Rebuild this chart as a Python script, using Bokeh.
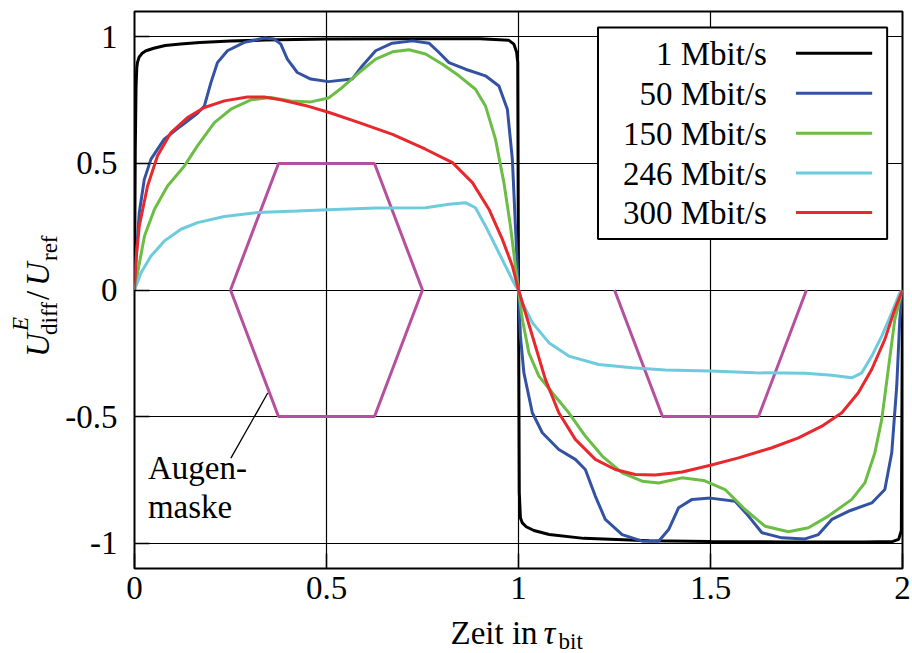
import numpy as np
from bokeh.plotting import figure
from bokeh.layouts import row, column
from bokeh.models import Range1d, FixedTicker, Label, CustomJSTickFormatter, Div
from bokeh.embed import file_html
from bokeh.resources import INLINE

# ---------------- data ----------------
series_names = ["1 Mbit/s", "50 Mbit/s", "150 Mbit/s", "246 Mbit/s", "300 Mbit/s"]
series_colors = ["#000000", "#3352a3", "#6cbd45", "#6ccbdc", "#e8282d"]

x_1 = [0, 0.002, 0.004, 0.006, 0.008, 0.012, 0.02, 0.03, 0.05, 0.08, 0.12, 0.17, 0.25, 0.34,
       0.5, 0.7, 0.9, 0.975, 0.988, 0.995, 0.998, 1.0, 1.002, 1.005, 1.01, 1.02, 1.04, 1.08,
       1.17, 1.34, 1.5, 1.7, 1.9, 1.975, 1.99, 1.997, 2.0]
y_1 = [0, 0.55, 0.8, 0.88, 0.9, 0.92, 0.935, 0.945, 0.955, 0.966, 0.972, 0.978, 0.983, 0.987,
       0.991, 0.992, 0.992, 0.986, 0.971, 0.94, 0.9, 0.0, -0.8, -0.9, -0.92, -0.935, -0.95, -0.966,
       -0.981, -0.99, -0.993, -0.995, -0.995, -0.993, -0.985, -0.95, 0.0]

x_50 = [0, 0.004, 0.0125, 0.0255, 0.043, 0.0775, 0.121, 0.164, 0.182, 0.199, 0.216, 0.242, 0.286,
        0.338, 0.364, 0.381, 0.398, 0.424, 0.459, 0.505, 0.567, 0.593, 0.628, 0.671, 0.724, 0.767,
        0.793, 0.819, 0.862, 0.914, 0.949, 0.971, 0.984, 0.992, 1.0,
        1.005, 1.014, 1.036, 1.062, 1.105, 1.148, 1.174, 1.200, 1.226, 1.270, 1.322, 1.365, 1.391,
        1.417, 1.452, 1.50, 1.564, 1.599, 1.634, 1.686, 1.746, 1.781, 1.816, 1.859, 1.920, 1.954,
        1.972, 1.985, 1.993, 2.0]
y_50 = [0, 0.121, 0.306, 0.437, 0.517, 0.596, 0.648, 0.698, 0.727, 0.819, 0.898, 0.945, 0.978,
        0.995, 0.991, 0.971, 0.912, 0.859, 0.833, 0.823, 0.833, 0.885, 0.945, 0.975, 0.984, 0.975,
        0.938, 0.898, 0.872, 0.846, 0.806, 0.714, 0.517, 0.253, 0.0,
        -0.182, -0.327, -0.485, -0.564, -0.630, -0.669, -0.709, -0.814, -0.906, -0.966, -0.992,
        -0.992, -0.946, -0.860, -0.827, -0.822, -0.834, -0.893, -0.959, -0.979, -0.983, -0.966,
        -0.906, -0.874, -0.841, -0.788, -0.643, -0.379, -0.116, 0.0]

x_150 = [0, 0.008, 0.026, 0.052, 0.086, 0.130, 0.164, 0.208, 0.251, 0.303, 0.355, 0.407, 0.459,
         0.505, 0.541, 0.585, 0.628, 0.672, 0.715, 0.758, 0.802, 0.845, 0.888, 0.914, 0.940, 0.962,
         0.979, 0.992, 1.0,
         1.010, 1.027, 1.053, 1.088, 1.131, 1.174, 1.218, 1.270, 1.322, 1.365, 1.426, 1.482,
         1.538, 1.590, 1.642, 1.703, 1.755, 1.807, 1.868, 1.902, 1.928, 1.946, 1.963, 1.980, 2.0]
y_150 = [0, 0.068, 0.213, 0.319, 0.411, 0.490, 0.569, 0.661, 0.714, 0.751, 0.760, 0.747, 0.743,
         0.758, 0.800, 0.859, 0.912, 0.941, 0.949, 0.932, 0.892, 0.846, 0.793, 0.727, 0.596, 0.424,
         0.253, 0.095, 0.0,
         -0.116, -0.248, -0.340, -0.406, -0.485, -0.577, -0.656, -0.722, -0.755, -0.762, -0.742,
         -0.752, -0.788, -0.867, -0.933, -0.955, -0.939, -0.893, -0.827, -0.762, -0.643, -0.511,
         -0.313, -0.116, 0.0]

x_246 = [0, 0.017, 0.043, 0.078, 0.121, 0.164, 0.234, 0.320, 0.424, 0.505, 0.628, 0.758, 0.819,
         0.862, 0.888, 0.914, 0.940, 0.966, 0.992, 1.0,
         1.010, 1.036, 1.079, 1.131, 1.209, 1.296, 1.382, 1.50, 1.616, 1.746, 1.816, 1.868, 1.894,
         1.920, 1.946, 1.972, 1.993, 2.0]
y_246 = [0, 0.068, 0.134, 0.194, 0.240, 0.266, 0.290, 0.306, 0.312, 0.317, 0.324, 0.325, 0.339,
         0.345, 0.325, 0.253, 0.174, 0.095, 0.016, 0.0,
         -0.050, -0.129, -0.208, -0.261, -0.294, -0.307, -0.316, -0.320, -0.327, -0.329, -0.337,
         -0.347, -0.327, -0.261, -0.182, -0.090, -0.011, 0.0]

x_300 = [0, 0.004, 0.0125, 0.034, 0.060, 0.095, 0.138, 0.182, 0.234, 0.294, 0.338, 0.381, 0.442,
         0.505, 0.585, 0.672, 0.758, 0.828, 0.880, 0.923, 0.958, 0.984, 1.0,
         1.018, 1.044, 1.070, 1.105, 1.148, 1.200, 1.252, 1.304, 1.356, 1.426, 1.50, 1.573, 1.660,
         1.729, 1.790, 1.842, 1.885, 1.920, 1.954, 1.980, 2.0]
y_300 = [0, 0.121, 0.253, 0.411, 0.530, 0.622, 0.681, 0.721, 0.747, 0.762, 0.762, 0.751, 0.730,
         0.702, 0.661, 0.615, 0.556, 0.503, 0.424, 0.319, 0.200, 0.095, 0.0,
         -0.090, -0.221, -0.353, -0.485, -0.590, -0.669, -0.709, -0.729, -0.731, -0.719, -0.692,
         -0.663, -0.623, -0.584, -0.538, -0.485, -0.406, -0.313, -0.195, -0.076, 0.0]

series_x = [x_1, x_50, x_150, x_246, x_300]
series_y = [y_1, y_50, y_150, y_246, y_300]

# eye masks
mask1_x = [0.25, 0.375, 0.625, 0.75, 0.625, 0.375, 0.25]
mask1_y = [0.0, 0.5, 0.5, 0.0, -0.5, -0.5, 0.0]
mask2_x = [1.25, 1.375, 1.625, 1.75]
mask2_y = [0.0, -0.5, -0.5, 0.0]
mask_color = "#b5509f"

x_ticks = [0, 0.5, 1, 1.5, 2]
y_ticks = [-1, -0.5, 0, 0.5, 1]
x_tick_labels = ["0", "0.5", "1", "1.5", "2"]
y_tick_labels = ["-1", "-0.5", "0", "0.5", "1"]

FONT = "Liberation Serif"

# ---------------- layout sizes ----------------
YT_W = 62          # width of the y-title strip
MAIN_W = 912 - YT_W
MAIN_H = 613
XT_H = 653 - MAIN_H

# ---------------- main plot ----------------
p = figure(width=MAIN_W, height=MAIN_H, output_backend="svg", toolbar_location=None,
           x_range=Range1d(0, 2), y_range=Range1d(-1.1, 1.1),
           min_border_left=134 - YT_W, min_border_right=10, min_border_top=11,
           min_border_bottom=MAIN_H - 568)
p.background_fill_color = "white"
p.border_fill_color = "white"
p.outline_line_color = "black"
p.outline_line_width = 2
p.outline_line_alpha = 1

for ax in (p.xaxis, p.yaxis):
    ax.axis_line_color = None
    ax.major_tick_in = 15
    ax.major_tick_out = 0
    ax.major_tick_line_width = 1.5
    ax.minor_tick_line_color = None
    ax.major_label_text_font = FONT
    ax.major_label_text_font_size = "33px"
    ax.major_label_text_color = "black"

fmt_code = """
for (let i = 0; i < tvals.length; i++) {
  if (Math.abs(tvals[i] - tick) < 1e-9) { return tlabels[i]; }
}
return String(tick);
"""
p.xaxis.ticker = FixedTicker(ticks=x_ticks)
p.yaxis.ticker = FixedTicker(ticks=y_ticks)
p.xaxis.formatter = CustomJSTickFormatter(args=dict(tvals=x_ticks, tlabels=x_tick_labels), code=fmt_code)
p.yaxis.formatter = CustomJSTickFormatter(args=dict(tvals=y_ticks, tlabels=y_tick_labels), code=fmt_code)
p.xaxis.major_label_standoff = 8
p.yaxis.major_label_standoff = 17

p.xgrid.ticker = FixedTicker(ticks=x_ticks)
p.ygrid.ticker = FixedTicker(ticks=y_ticks)
for g in (p.xgrid, p.ygrid):
    g.grid_line_color = "black"
    g.grid_line_width = 1.2
    g.grid_line_alpha = 1

# masks
p.line(mask1_x, mask1_y, line_color=mask_color, line_width=3)
p.line(mask2_x, mask2_y, line_color=mask_color, line_width=3)

# curves
for xs, ys, c in zip(series_x, series_y, series_colors):
    p.line(xs, ys, line_color=c, line_width=3)

# annotation of mask
p.line([0.251, 0.347], [-0.664, -0.407], line_color="black", line_width=1.3)
for txt, yy in (("Augen-", -0.704), ("maske", -0.858)):
    p.add_layout(Label(x=0.035, y=yy, text=txt, text_font=FONT, text_font_size="33px",
                       text_align="left", text_baseline="alphabetic", text_color="black"))

# legend (drawn manually: label left, line sample right)
leg_rows = [0.935, 0.777, 0.619, 0.462, 0.306]
p.quad(left=[1.207], right=[1.960], bottom=[0.2016], top=[1.037],
       fill_color="white", line_color="black", line_width=2)
for name, c, yy in zip(series_names, series_colors, leg_rows):
    p.line([1.7225, 1.921], [yy, yy], line_color=c, line_width=3)
    p.add_layout(Label(x=1.647, y=yy - 0.002, text=name, text_font=FONT, text_font_size="33px",
                       text_align="right", text_baseline="alphabetic", text_color="black"))

# ---------------- y-axis title strip: U^E_diff / U_ref (CSS-rotated text) ----------------
# (text, italic?, font px, baseline x, start y) ; each piece rotated 90 deg counter-clockwise
ypieces = [("U", True, 33, 50, 357),
           ("E", True, 23, 28, 331),
           ("diff", False, 23, 57, 335),
           ("/", False, 33, 50, 300),
           ("U", True, 33, 50, 286),
           ("ref", False, 23, 57, 261)]
spans = []
for txt, ital, fs, bx, sy in ypieces:
    b = 0.8375 * fs           # baseline distance from box top (line-height 1)
    left = bx - b
    style = ("position:absolute; left:%.1fpx; top:%.1fpx; transform-origin:0 0; "
             "transform:rotate(-90deg); font-family:'%s'; font-size:%dpx; line-height:1; "
             "white-space:nowrap; color:black; font-style:%s; margin:0; padding:0;"
             % (left, sy, FONT, fs, "italic" if ital else "normal"))
    spans.append('<div style="%s">%s</div>' % (style, txt))
yt_html = ('<div style="position:relative; width:%dpx; height:%dpx; overflow:visible;">%s</div>'
           % (YT_W, MAIN_H, "".join(spans)))
yt = Div(text=yt_html, width=YT_W, height=MAIN_H, margin=0)

# ---------------- x-axis title strip: Zeit in tau_bit ----------------
xt = figure(width=912, height=XT_H, output_backend="svg", toolbar_location=None,
            x_range=Range1d(0, 912), y_range=Range1d(0, XT_H),
            x_axis_type=None, y_axis_type=None, min_border=0)
xt.outline_line_color = None
xt.grid.visible = False
xpieces = [("Zeit in", "normal", "33px", 450, 653 - 632),
           ("\u03c4", "italic", "33px", 543, 653 - 632),
           ("bit", "normal", "23px", 558, 653 - 641)]
for txt, st, fs, xx, yy in xpieces:
    xt.add_layout(Label(x=xx, y=yy, text=txt,
                        text_font=FONT, text_font_style=st, text_font_size=fs,
                        text_align="left", text_baseline="alphabetic", text_color="black"))

layout = column(row(yt, p, spacing=0), xt, spacing=0)
open("out.html", "w").write(file_html(layout, INLINE))
